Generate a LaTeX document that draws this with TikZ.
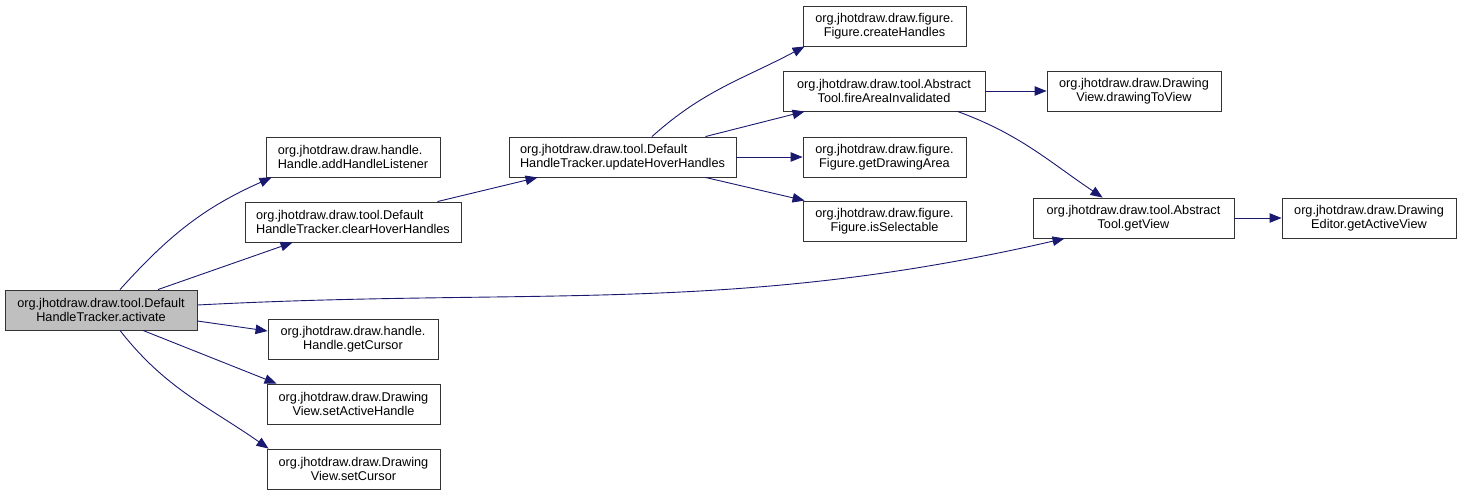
\documentclass[tikz,border=0pt]{standalone}
\usepackage{fontspec}
\setmainfont{Liberation Sans}
\usetikzlibrary{arrows.meta}
\definecolor{edgeblue}{HTML}{191970}
\definecolor{rootgray}{HTML}{BFBFBF}

\begin{document}
\begin{tikzpicture}[x=1pt, y=-1pt,
  fn/.style={draw=black!80, line width=0.9pt, fill=white, minimum height=40pt,
    inner sep=0pt, align=center, font=\fontsize{12.7}{14}\selectfont},
  call/.style={draw=edgeblue, line width=0.9pt, -{Triangle[length=12pt,width=9.5pt]}}]

\useasboundingbox (0,0) rectangle (1461,496);

% Root function (grey box on the left)
\node[fn, fill=rootgray, minimum width=192pt] (activate) at (101,310) {org.jhotdraw.draw.tool.Default\\HandleTracker.activate};

% First column of callees
\node[fn, align=left, minimum width=174pt] (addHL) at (353,157) {org.jhotdraw.draw.handle.\\Handle.addHandleListener};
\node[fn, align=left, minimum width=216pt] (clearHH) at (353,222) {org.jhotdraw.draw.tool.Default\\HandleTracker.clearHoverHandles};
\node[fn, minimum width=170pt] (getCursor) at (353,339) {org.jhotdraw.draw.handle.\\Handle.getCursor};
\node[fn, minimum width=173pt] (setAH) at (353.5,404) {org.jhotdraw.draw.Drawing\\View.setActiveHandle};
\node[fn, minimum width=173pt] (setCursor) at (353.5,469) {org.jhotdraw.draw.Drawing\\View.setCursor};

% Second column
\node[fn, align=left, minimum width=227pt] (updateHH) at (622.5,157) {org.jhotdraw.draw.tool.Default\\HandleTracker.updateHoverHandles};

% Third column
\node[fn, minimum width=163pt] (createH) at (884.5,26) {org.jhotdraw.draw.figure.\\Figure.createHandles};
\node[fn, minimum width=202pt] (fireAI) at (884,91) {org.jhotdraw.draw.tool.Abstract\\Tool.fireAreaInvalidated};
\node[fn, minimum width=163pt] (getDA) at (884.5,157) {org.jhotdraw.draw.figure.\\Figure.getDrawingArea};
\node[fn, minimum width=163pt] (isSel) at (884.5,221) {org.jhotdraw.draw.figure.\\Figure.isSelectable};

% Fourth and fifth columns
\node[fn, minimum width=174pt] (drawTV) at (1134,91) {org.jhotdraw.draw.Drawing\\View.drawingToView};
\node[fn, minimum width=201pt] (getView) at (1133.5,218) {org.jhotdraw.draw.tool.Abstract\\Tool.getView};
\node[fn, minimum width=174pt] (getAV) at (1369,218) {org.jhotdraw.draw.Drawing\\Editor.getActiveView};

% Calls made by activate
\draw[call] ([xshift=19pt]activate.north) to[out=48,in=204] ([xshift=6pt]addHL.south west);
\draw[call] ([xshift=57pt]activate.north) -- ([xshift=48pt]clearHH.south west);
\draw[call] ([yshift=5pt]activate.east) to[out=3,in=193] ([xshift=32pt]getView.south west);
\draw[call] ([yshift=-11pt]activate.east) -- ([yshift=8pt]getCursor.west);
\draw[call] ([xshift=42pt]activate.south) -- ([xshift=10pt]setAH.north west);
\draw[call] ([xshift=19pt]activate.south) to[out=-52,in=145] ([xshift=2pt]setCursor.north west);

% Calls made by clearHoverHandles and updateHoverHandles
\draw[call] ([xshift=-24pt]clearHH.north east) -- ([xshift=29pt]updateHH.south west);
\draw[call] ([xshift=29.5pt]updateHH.north) to[out=42,in=208] ([xshift=2pt]createH.south west);
\draw[call] ([xshift=-31pt]updateHH.north east) -- ([xshift=22pt]fireAI.south west);
\draw[call] (updateHH) -- (getDA);
\draw[call] ([xshift=-31pt]updateHH.south east) -- ([xshift=2pt]isSel.north west);

% Calls made by fireAreaInvalidated and getView
\draw[call] (fireAI) -- (drawTV);
\draw[call] ([xshift=-28pt]fireAI.south east) to[out=-20,in=146] ([xshift=70pt]getView.north west);
\draw[call] (getView) -- (getAV);

\end{tikzpicture}
\end{document}
